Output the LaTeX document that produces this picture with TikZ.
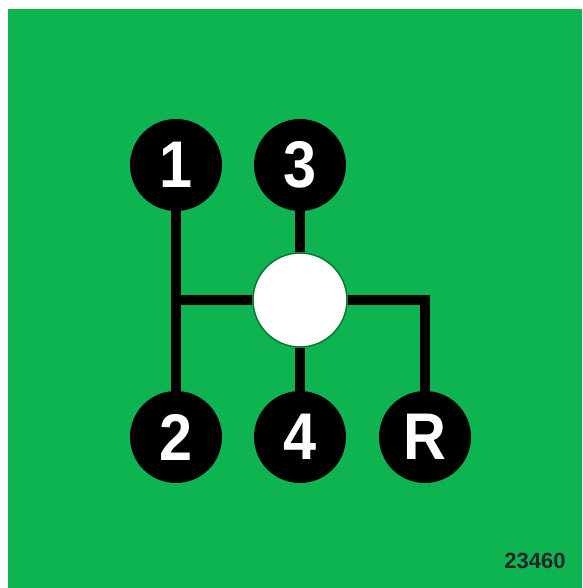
\documentclass[tikz,border=0pt]{standalone}
\usepackage{fontspec}
\setmainfont{Liberation Sans}
\newfontfamily\gearfont[FakeStretch=0.9]{Liberation Sans Bold}
\usepackage{tikz}
\definecolor{plate}{RGB}{14,180,80}
\definecolor{rim}{RGB}{10,120,50}

\begin{document}
\begin{tikzpicture}[x=1pt, y=-1pt,
  gear/.style={circle, fill=black, text=white, minimum size=92pt, inner sep=0pt,
               font=\gearfont\fontsize{66}{66}\selectfont},
  knob/.style={circle, fill=white, draw=rim, line width=1.5pt, minimum size=94pt, inner sep=0pt},
  rail/.style={line width=10pt}]
\useasboundingbox (0,0) rectangle (582,588);
\fill[white] (0,0) rectangle (582,588);
\fill[plate] (8,9) rectangle (582,588);
\node[gear] (g1) at (176,165) {1};
\node[gear] (g3) at (300,165) {3};
\node[knob] (kn) at (300,300) {};
\node[gear] (g2) at (176,437) {2};
\node[gear] (g4) at (300,437) {4};
\node[gear] (gR) at (425,437) {R};
\coordinate (jn) at (g1 |- kn);
\draw[rail] (g1) -- (g2);
\draw[rail] (jn) -- (kn);
\draw[rail] (g3) -- (kn);
\draw[rail] (kn) -- (g4);
\draw[rail] (kn) -| (gR);
\node[font=\bfseries\fontsize{22}{22}\selectfont, text=black!85] (code) at (535,561) {23460};
\end{tikzpicture}
\end{document}
